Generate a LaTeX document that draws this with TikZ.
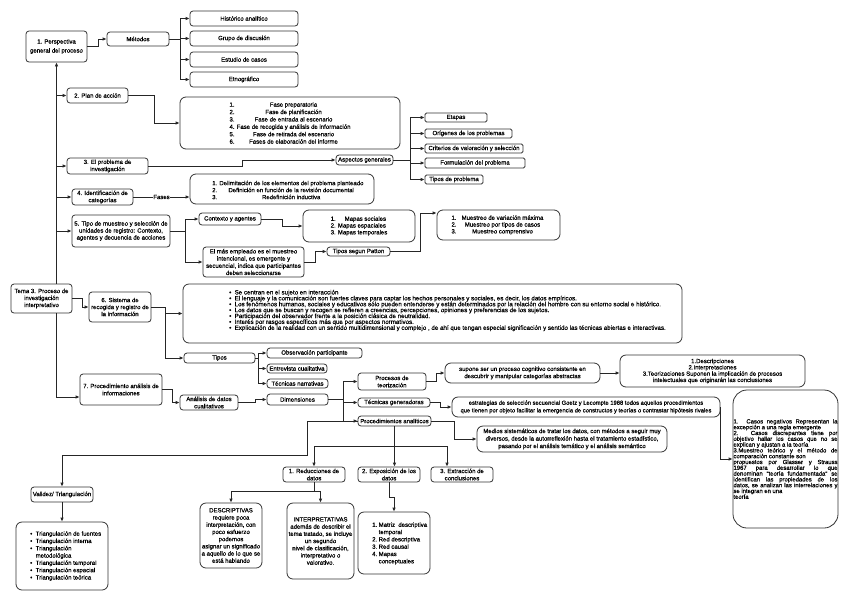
\documentclass[tikz,border=0pt]{standalone}
\usepackage{fontspec}
\setmainfont{Liberation Sans}[FakeBold=0.5]
\usetikzlibrary{arrows.meta,calc}
\setlength{\lineskiplimit}{-10pt}
\newcommand\fs{\fontsize{6}{7.2}\selectfont}
\newcommand\fl[2]{\makebox[14pt][l]{#1}\makebox[100pt]{#2}}
\newcommand\ml[2]{\makebox[8pt][l]{#1}\makebox[86pt]{#2}}
\newcommand\dl[2]{\makebox[14pt][l]{#1}\makebox[130pt]{#2}}
\newcommand\jl[1]{\makebox[104pt][s]{#1}}
\newcommand\bl[1]{\makebox[5.5pt][l]{\textbullet}#1}
\tikzset{
  bx/.style={draw=black!80, line width=0.8pt, rounded corners=3pt, inner sep=0.5pt, align=center, font=\fs, text=black},
  bigbx/.style={rounded corners=6pt},
  ln/.style={draw=black!85, line width=0.8pt},
  arr/.style={ln, -{Latex[length=4pt,width=3.6pt]}},
  txt/.style={inner sep=0pt, align=left, font=\fs, anchor=west, text=black}
}
\newcommand\mybox[7][]{\node[bx,minimum width={#4-#2},minimum height={#5-#3},#1] (#6) at ({(#2+#4)/2},{(#3+#5)/2}) {#7};}
\begin{document}
\begin{tikzpicture}[x=1pt,y=-1pt]
\useasboundingbox (0,0) rectangle (848,600);
\fill[white] (0,0) rectangle (848,600);
% top
\mybox[font=\fontsize{6}{9}\selectfont]{26}{31}{87}{62}{persp}{1. Perspectiva\\general del proceso}
\mybox{107}{32}{169}{46}{met}{Métodos}
\mybox{190}{11}{298}{26}{h1}{Histórico analítico}
\mybox{190}{31}{298}{46}{h2}{Grupo de discusión}
\mybox{190}{52}{298}{67}{h3}{Estudio de casos}
\mybox{190}{72}{298}{87}{h4}{Etnográfico}
\mybox{67}{88}{128}{103}{plan}{2. Plan de acción}
\mybox[bigbx,align=left,font=\fontsize{6}{7.4}\selectfont]{180}{97}{400}{149}{fases}{\fl{1.}{Fase preparatoria}\\\fl{2.}{Fase de planificación}\\\fl{3.}{Fase de entrada al escenario}\\4. Fase de recogida y análisis de información\\\fl{5.}{Fase de retirada del escenario}\\\fl{6.}{Fases de elaboración del informe}}
\mybox{67}{158}{148}{174}{prob3}{3. El problema de\\investigación}
\mybox{336}{155}{393}{165}{asp}{Aspectos generales}
\mybox[rounded corners=1.5pt]{425}{113}{487}{122}{etapas}{Etapas}
\mybox[rounded corners=1.5pt]{425}{129}{512}{138}{orig}{Orígenes de los problemas}
\mybox[rounded corners=1.5pt]{425}{144}{523}{153}{crit}{Criterios de valoración y selección}
\mybox[rounded corners=1.5pt]{425}{158}{525}{168}{form}{Formulación del problema}
\mybox[rounded corners=1.5pt]{425}{175}{483}{184}{tipop}{Tipos de problema}
\mybox{72}{189}{133}{205}{ident4}{4. Identificación de\\categorías}
\mybox[bigbx]{190}{174}{374}{204}{delim}{}
\node[txt,font=\fontsize{6}{7}\selectfont] (delimtxt) at (212,190) {1. Delimitación de los elementos del problema planteado\\\dl{2.}{Definición en función de la revisión documental}\\\dl{3.}{Redefinición inductiva}};
\mybox[font=\fontsize{6}{7}\selectfont]{72}{215}{170}{247}{tipo5}{5. Tipo de muestreo y selección de\\unidades de registro: Contexto,\\agentes y decuencia de acciones}
\mybox{199}{213}{261}{225}{ctx}{Contexto y agentes}
\mybox[bigbx,align=left,font=\fontsize{6}{6.8}\selectfont]{303}{210}{415}{242}{mapas}{\makebox[14pt][l]{1.}Mapas sociales\\2. Mapas espaciales\\3. Mapas temporales}
\mybox{203}{247}{304}{277}{emp}{El más empleado es el muestreo\\intencional, es emergente y\\secuencial, indica que participantes\\deben seleccionarse}
\mybox{327}{247}{390}{256}{patton}{Tipos segun Patton}
\mybox[bigbx,align=left,font=\fontsize{6}{6.8}\selectfont]{437}{210}{560}{240}{muest}{\ml{1.}{Muestreo de variación máxima}\\\ml{2.}{Muestreo por tipos de casos}\\\ml{3.}{Muestreo comprensivo}}
% middle
\mybox[font=\fontsize{6}{7}\selectfont]{11}{284}{72}{313}{tema}{Tema 3. Proceso de\\investigación\\interpretativo}
\mybox[font=\fontsize{6}{7}\selectfont]{89}{292}{151}{322}{sis6}{6. Sistema de\\recogida y registro de\\la información}
\mybox[bigbx]{183}{284}{682}{343}{bul}{}
\node[txt,font=\fontsize{6.2}{5.9}\selectfont] (bultxt) at (229,310.5) {\bl{Se centran en el sujeto en interacción}\\\bl{El lenguaje y la comunicación son fuertes claves para captar los hechos personales y sociales, es decir, los datos empíricos.}\\\bl{Los fenómenos humanos, sociales y educativos sólo pueden entenderse y están determinados por la relación del hombre con su entorno social e histórico.}\\\bl{Los datos que se buscan y recogen se refieren a creencias, percepciones, opiniones y preferencias de los sujetos.}\\\bl{Participación del observador frente a la posición clásica de neutralidad.}\\\bl{Interés por rasgos específicos más que por aspectos normativos.}\\\bl{Explicación de la realidad con un sentido multidimensional y complejo , de ahí que tengan especial significación y sentido las técnicas abiertas e interactivas.}};
\mybox{184}{353}{255}{363}{tipos}{Tipos}
\mybox{267}{348}{362}{358}{obs}{Observación participante}
\mybox{267}{364}{327}{373}{entr}{Entrevista cualitativa}
\mybox{267}{379}{328}{388}{tecn}{Técnicas narrativas}
\mybox{80}{374}{162}{405}{proc7}{7. Procedimiento análisis de\\informaciones}
\mybox{180}{395}{238}{410}{anal}{Análisis de datos\\cualitativos}
\mybox{267}{394}{328}{405}{dim}{Dimensiones}
\mybox{358}{373}{426}{390}{proct}{Procesos de\\teorización}
\mybox{358}{398}{430}{407}{tecg}{Técnicas generadoras}
\mybox{358}{416}{431}{426}{proca}{Procedimientos analíticos}
\mybox[bigbx]{445}{363}{600}{383}{sup}{supone ser un proceso cognitivo consistente en\\descubrir y manipular categorías abstractas}
\mybox[bigbx,font=\fontsize{6}{6.3}\selectfont]{620}{355}{805}{387}{desc}{1.Descripciones\\2.Interpretaciones\\3.Teorizaciones Suponen la implicación de procesos\\intelectuales que originarán las conclusiones}
\mybox[bigbx,font=\fontsize{5.8}{7.6}\selectfont]{452}{397}{720}{417}{estr}{estrategias de selección secuencial Goetz y Lecompte 1988 todos aquellos procedimientos\\que tienen por objeto facilitar la emergencia de constructos y teorías o contrastar hipótesis rivales}
\mybox[bigbx,font=\fontsize{6}{7.5}\selectfont]{477}{426}{667}{452}{med}{Medios sistemáticos de tratar los datos, con métodos a seguir muy\\diversos, desde la autorreflexión hasta el tratamiento estadístico,\\pasando por el análisis temático y el análisis semántico}
\mybox[rounded corners=14pt,align=left,font=\fontsize{5.9}{5.8}\selectfont]{733}{390}{838}{528}{casos}{\jl{1. Casos negativos Representan la}\\excepción a una regla emergente\\\jl{2. Casos discrepantes tiene por}\\\jl{objetivo hallar los casos que no se}\\explican y ajustan a la teoría\\\jl{3.Muestreo teórico y el método de}\\comparación constante son\\\jl{propuestos por Glasser y Strauss}\\\jl{1967 para desarrollar lo que}\\\jl{denominan "teoría fundamentada" se}\\\jl{identifican las propiedades de los}\\\jl{datos, se analizan las interrelaciones y}\\se integran en una\\teoría}
% bottom
\mybox{31}{487}{93}{502}{valid}{Validez/ Triangulación}
\mybox[bigbx]{16}{522}{108}{590}{triang}{}
\node[txt,font=\fontsize{6}{7.3}\selectfont] (triangtxt) at (30,556) {\bl{Triangulación de fuentes}\\\bl{Triangulación interna}\\\bl{Triangulación}\\\hspace*{5.5pt}metodológica\\\bl{Triangulación temporal}\\\bl{Triangulación espacial}\\\bl{Triangulación teórica}};
\mybox{283}{467}{345}{482}{red1}{1. Reducciones de\\datos}
\mybox{358}{467}{420}{482}{exp2}{2. Exposición de los\\datos}
\mybox{431}{467}{493}{482}{ext3}{3. Extracción de\\conclusiones}
\mybox[bigbx]{200}{503}{262}{568}{descr}{DESCRIPTIVAS\\requiere poca\\interpretación, con\\poco esfuerzo\\podemos\\asignar un significado\\a aquello de lo que se\\está hablando}
\mybox[bigbx]{287}{503}{354}{579}{interp}{INTERPRETATIVAS\\además de describir el\\tema tratado, se incluye\\un segundo\\nivel de clasificación,\\interpretativo o\\valorativo.}
\mybox[bigbx]{358}{512}{430}{574}{matriz}{}
\node[txt,font=\fontsize{6}{7.3}\selectfont] (matriztxt) at (372,543.5) {\makebox[6.5pt][l]{1.}Matriz\ \ descriptiva\\\hspace*{6.5pt}temporal\\\makebox[6.5pt][l]{2.}Red descriptiva\\\makebox[6.5pt][l]{3.}Red causal\\\makebox[6.5pt][l]{4.}Mapas\\\hspace*{6.5pt}conceptuales};
% connectors top
\draw[arr] (persp.east) -- ++(11,0) |- (met.west);
\draw[ln] (met.east) -- ++(11,0) coordinate (mt);
\draw[ln] (mt |- h1.west) -- (mt |- h4.west);
\foreach \n in {h1,h2,h3,h4} \draw[arr] (mt |- \n.west) -- (\n.west);
\draw[arr] (tema.north -| persp.south) -- (persp.south);
\foreach \n in {plan,prob3,ident4,tipo5} \draw[arr] (persp.south |- \n.west) -- (\n.west);
\draw[arr] (tema.south -| persp.south) |- ([yshift=-7.5pt]proc7.west);
\draw[arr] (plan.east) -- ++(26,0) |- (fases.west);
\draw[arr] (prob3.east) -- ++(94,0) |- (asp.west);
\draw[ln] (asp.east) -- ++(17,0) coordinate (at);
\draw[ln] (at |- etapas.west) -- (at |- tipop.west);
\foreach \n in {etapas,orig,crit,form,tipop} \draw[arr] (at |- \n.west) -- (\n.west);
\draw[arr] (ident4.east) -- (ident4.east -| delim.west) node[midway, fill=white, inner sep=0.8pt, font=\fs] (faseslbl) {Fases};
\draw[ln] (tipo5.east) -- ++(15,0) coordinate (t5);
\draw[ln] (t5 |- ctx.west) -- (t5 |- emp.west);
\draw[arr] (t5 |- ctx.west) -- (ctx.west);
\draw[arr] (t5 |- emp.west) -- (emp.west);
\draw[arr] (ctx.east) -- ++(21,0) |- (mapas.west);
\draw[arr] (emp.east) -- ++(11,0) |- (patton.west);
\draw[arr] (patton.east) -- ++(30,0) |- ([yshift=12pt]muest.west);
% middle connectors
\draw[arr] (tema.east) -- ++(10,0) |- (sis6.west);
\draw[ln] (sis6.east) -- ++(14,0) coordinate (s6) -- (s6 |- tipos.west);
\draw[arr] (s6 |- bul.west) -- (bul.west);
\draw[arr] (s6 |- tipos.west) -- (tipos.west);
\draw[ln] (tipos.east) -- ++(3,0) coordinate (tp);
\draw[ln] (tp |- obs.west) -- (tp |- tecn.west);
\foreach \n in {obs,entr,tecn} \draw[arr] (tp |- \n.west) -- (\n.west);
\draw[arr] (proc7.east) -- ++(10,0) |- (anal.west);
\draw[arr] (anal.east) -- ++(17,0) |- (dim.west);
\draw[ln] (dim.east) -- ++(15,0) coordinate (dm);
\draw[ln] (dm |- proct.west) -- (dm |- proca.west);
\foreach \n in {proct,tecg,proca} \draw[arr] (dm |- \n.west) -- (\n.west);
\draw[arr] (proct.east) -- ++(10,0) |- (sup.west);
\draw[arr] (sup.east) -- (sup.east -| desc.west);
\draw[arr] (tecg.east) -- ++(10,0) |- (estr.west);
\draw[arr] (proca.east) -- ++(23,0) |- (med.west);
\draw[arr] (estr.east) |- (casos.west);
% bottom connectors
\draw[arr] (proca.west) -| (307,455) -| (valid.north);
\draw[arr] (valid.south) -- (triang.north);
\draw[arr] (proca.south) -- (proca.south |- exp2.north);
\coordinate (hb) at (0,446);
\coordinate (e3) at ([xshift=-15pt]ext3.north);
\draw[ln] (red1.north |- hb) -- (e3 |- hb);
\draw[arr] (red1.north |- hb) -- (red1.north);
\draw[arr] (e3 |- hb) -- (e3);
\draw[ln] (red1.south) -- ++(0,9) coordinate (rb);
\draw[ln] (rb -| descr.north) -- (rb -| interp.north);
\draw[arr] (rb -| descr.north) -- (descr.north);
\draw[arr] (rb -| interp.north) -- (interp.north);
\draw[arr] (exp2.south) -- ++(0,15) -| (matriz.north);
\end{tikzpicture}
\end{document}
